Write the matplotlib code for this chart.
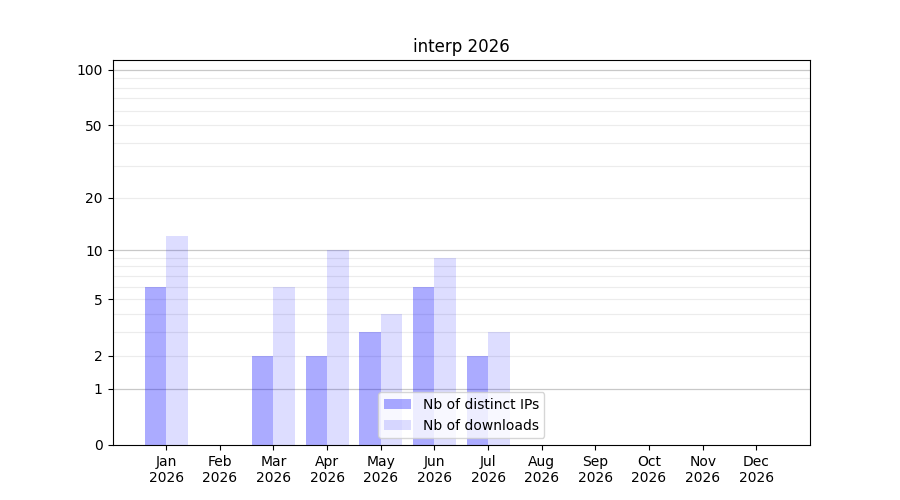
import numpy as np
import matplotlib
matplotlib.use('Agg')
import matplotlib.pyplot as plt

months = ['Jan', 'Feb', 'Mar', 'Apr', 'May', 'Jun', 'Jul', 'Aug', 'Sep', 'Oct', 'Nov', 'Dec']
year = '2026'
distinct_ips = [6, 0, 2, 2, 3, 6, 2, 0, 0, 0, 0, 0]
downloads = [12, 0, 6, 10, 4, 9, 3, 0, 0, 0, 0, 0]
ytick_vals = [0, 1, 2, 5, 10, 20, 50, 100]


def fwd(y):
    return np.log10(1 + np.maximum(y, 0))


def inv(y):
    return 10 ** y - 1


fig, ax = plt.subplots(figsize=(9, 5), dpi=100)
ax.set_yscale('function', functions=(fwd, inv))

# grid: major decades darker, in-between lighter
for d in [1, 10, 100]:
    ax.axhline(d, color='#c8c8c8', lw=0.9, zorder=0)
for d in [1, 10]:
    for k in range(2, 10):
        ax.axhline(d * k, color='#ececec', lw=0.8, zorder=0)

x = np.arange(len(months))
w = 0.4
ax.bar(x - w / 2, distinct_ips, w, color='blue', alpha=0.33, lw=0, label='Nb of distinct IPs', zorder=2)
ax.bar(x + w / 2, downloads, w, color='blue', alpha=0.135, lw=0, label='Nb of downloads', zorder=2)

ax.set_xlim(-1, 12)
ax.set_ylim(0, 113)
ax.set_xticks(x)
ax.set_xticklabels(['{}\n{}'.format(m, year) for m in months])
ax.set_yticks(ytick_vals)
ax.set_yticklabels([str(v) for v in ytick_vals])
ax.yaxis.set_minor_locator(matplotlib.ticker.NullLocator())
ax.set_title('interp 2026')
ax.legend(loc='lower center')

fig.savefig('out.png', dpi=100)
